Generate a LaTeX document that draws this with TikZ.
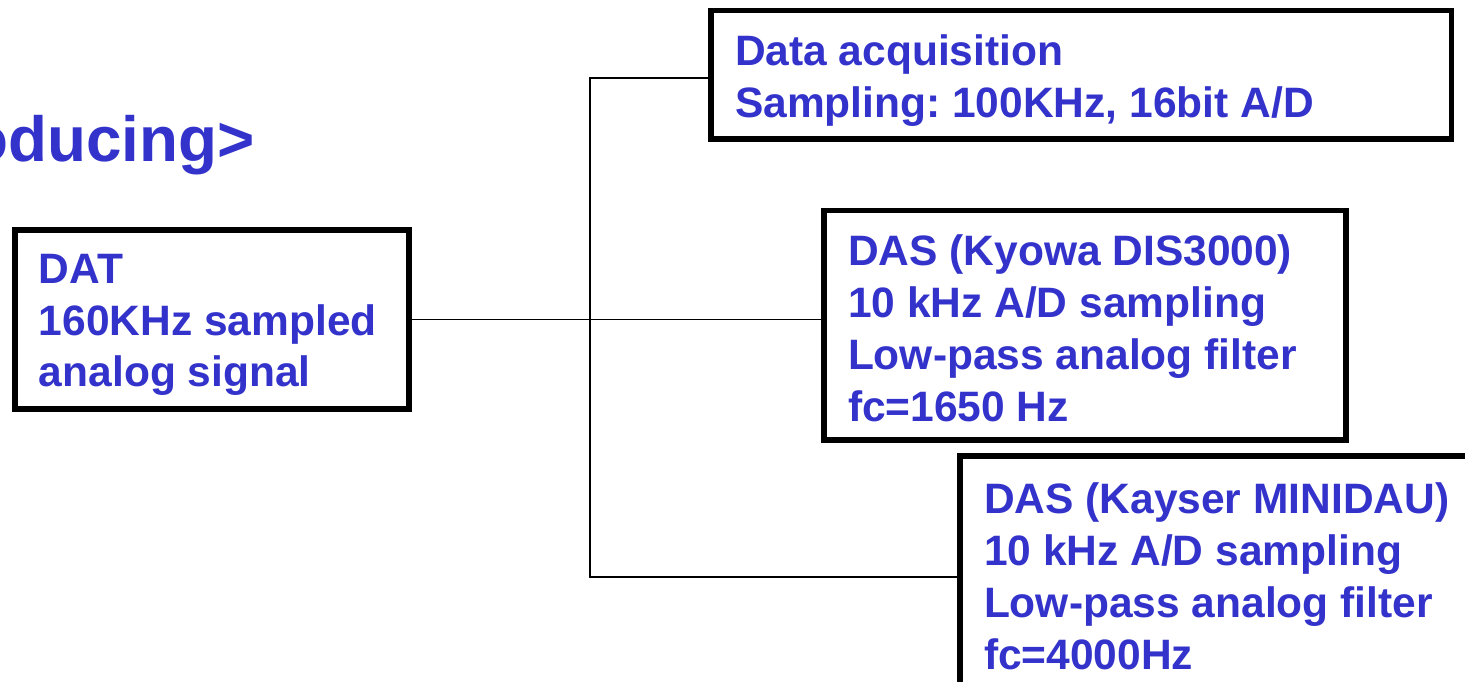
\documentclass[tikz,border=0pt]{standalone}
\usepackage{fontspec}
\setmainfont{Liberation Sans}
\usetikzlibrary{positioning}
\definecolor{textblue}{HTML}{3333CC}
\newcommand{\boxfont}{\fontsize{24.2pt}{29.5pt}\selectfont\bfseries\color{textblue}\frenchspacing}
\newcommand{\boxlines}[3]{\parbox[c][#2][t]{#1}{\boxfont\raggedright #3}}
\tikzset{
  sigbox/.style={draw=black,line width=3pt,fill=white,anchor=north west,outer sep=0pt,
    inner xsep=0.48cm,inner ysep=0.48cm},
  wire/.style={draw=black,line width=0.9pt},
  headline/.style={font=\fontsize{36.3pt}{44pt}\selectfont\bfseries\color{textblue},inner sep=0pt},
}

\begin{document}
\begin{tikzpicture}[x=0.02cm,y=-0.02cm]
  \useasboundingbox (0,0) rectangle (1465,682);
  \clip (0,0) rectangle (1465,682);

  \node[headline,anchor=base east] (title) at (255,162) {oducing>};

  \node[sigbox] (dat) at (15,230) {\boxlines{6.92cm}{2.62cm}{DAT\\160KHz sampled\\analog signal}};
  \node[sigbox,inner ysep=0.49cm] (daq) at (711,10.5) {\boxlines{13.85cm}{1.59cm}{Data acquisition\\Sampling: 100KHz, 16bit A/D}};
  \node[sigbox,inner ysep=0.49cm] (kyo) at (824,210.5) {\boxlines{9.48cm}{3.61cm}{DAS (Kyowa DIS3000)\\10 kHz A/D sampling\\Low-pass analog filter\\fc=1650 Hz}};
  \node[sigbox,inner ysep=0.54cm] (kay) at (960,456) {\boxlines{9.84cm}{4.2cm}{DAS (Kayser MINIDAU)\\10 kHz A/D sampling\\Low-pass analog filter\\fc=4000Hz}};

  \coordinate (busTop) at (590,78);
  \coordinate (busBot) at (590,577);

  \draw[wire] (dat.east) -- (dat.east -| kyo.west);
  \draw[wire] (daq.west |- busTop) -- (busTop) -- (busBot) -- (busBot -| kay.west);
\end{tikzpicture}
\end{document}
